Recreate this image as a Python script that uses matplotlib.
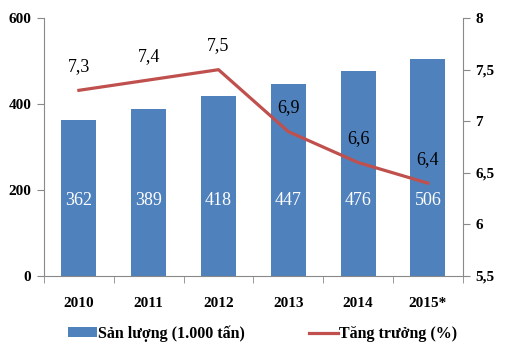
import matplotlib.pyplot as plt
import numpy as np

years = ['2010', '2011', '2012', '2013', '2014', '2015*']
san_luong = [362, 389, 418, 447, 476, 506]
tang_truong = [7.3, 7.4, 7.5, 6.9, 6.6, 6.4]
left_ticks = [0, 200, 400, 600]
right_ticks = [5.5, 6, 6.5, 7, 7.5, 8]
right_labels = ['5,5', '6', '6,5', '7', '7,5', '8']

plt.rcParams['font.family'] = ['Liberation Serif', 'DejaVu Serif']

fig = plt.figure(figsize=(5.2, 3.55), dpi=100)
ax = fig.add_axes([0.0846, 0.2225, 0.8054, 0.7265])
x = np.arange(len(years))

bars = ax.bar(x, san_luong, width=0.5, color='#4F81BD', label='Sản lượng (1.000 tấn)', zorder=2)
for xi, v in zip(x, san_luong):
    ax.text(xi, 175, str(v), ha='center', va='center', color='white', fontsize=13)

ax.set_xlim(-0.5, len(years) - 0.5)
ax.set_ylim(0, 600)
ax.set_yticks(left_ticks)
ax.set_yticklabels([str(t) for t in left_ticks], fontsize=11, fontweight='bold')
ax.set_xticks(x)
ax.set_xticklabels(years, fontsize=11, fontweight='bold')
ax.set_xticks(np.arange(-0.5, len(years)), minor=True)
ax.tick_params(axis='x', which='major', length=0, pad=15)
ax.tick_params(axis='x', which='minor', length=5, color='#898989')
ax.tick_params(axis='y', length=5, color='#898989', pad=4)
for s in ['top', 'right']:
    ax.spines[s].set_visible(False)
for s in ['left', 'bottom']:
    ax.spines[s].set_color('#898989')

ax2 = ax.twinx()
line, = ax2.plot(x, tang_truong, color='#C0504D', lw=2.3, label='Tăng trưởng (%)', zorder=3)
for xi, v in zip(x, tang_truong):
    ax2.annotate(str(v).replace('.', ','), (xi, v), xytext=(0, 11), textcoords='offset points',
                 ha='center', va='bottom', fontsize=13)
ax2.set_ylim(5.5, 8)
ax2.set_yticks(right_ticks)
ax2.set_yticklabels(right_labels, fontsize=11, fontweight='bold')
ax2.tick_params(axis='y', length=5, color='#898989', pad=4)
for s in ['top', 'left', 'bottom']:
    ax2.spines[s].set_visible(False)
ax2.spines['right'].set_color('#898989')

fig.legend([bars, line], ['Sản lượng (1.000 tấn)', 'Tăng trưởng (%)'], loc='center',
           bbox_to_anchor=(0.505, 0.06), ncol=2, frameon=False, columnspacing=4.0,
           handlelength=1.8, handleheight=0.6, handletextpad=0.1,
           prop={'family': 'Liberation Serif', 'size': 11.5, 'weight': 'bold'})

fig.savefig('out.png', dpi=100)
